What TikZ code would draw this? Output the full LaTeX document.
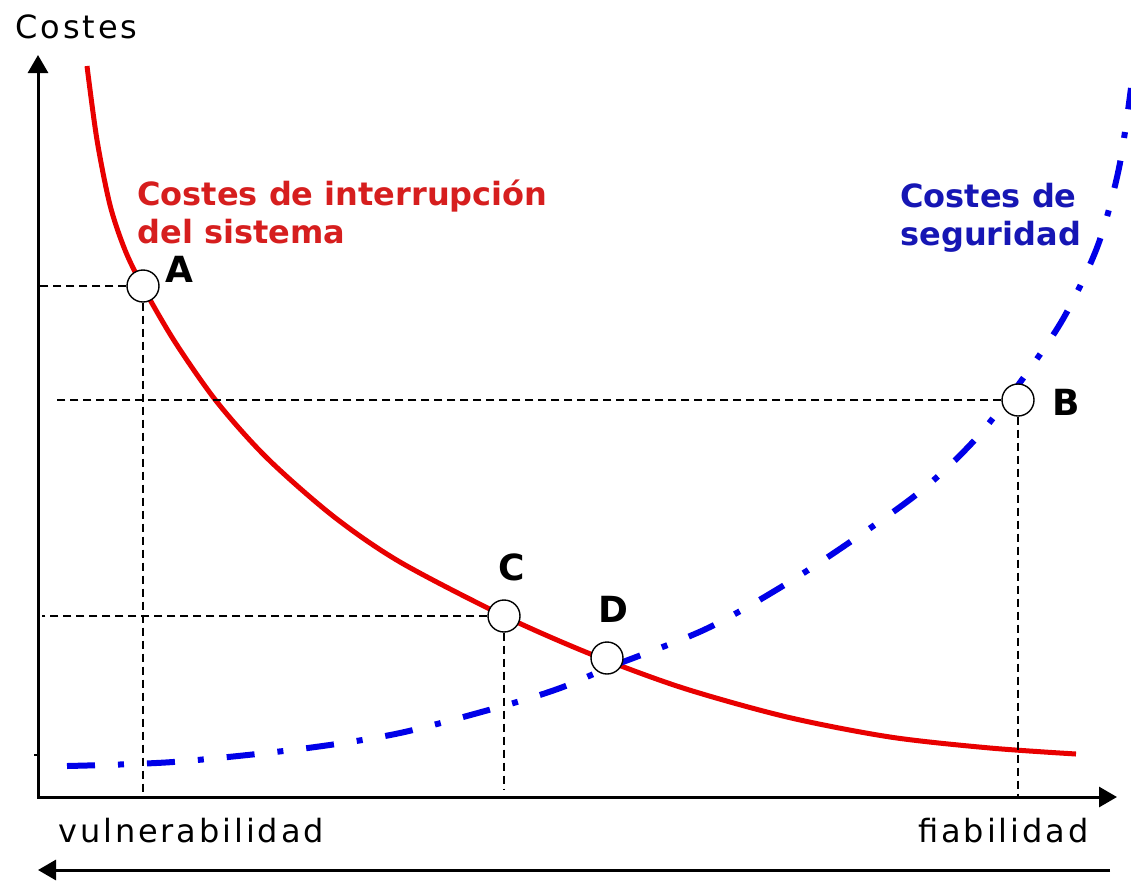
\documentclass[tikz,border=0pt]{standalone}
\usepackage{fontspec}
\setmainfont{DejaVu Sans}
\newfontfamily\axisfont{DejaVu Sans}[LetterSpace=9]
\usetikzlibrary{arrows.meta}
\definecolor{curvered}{RGB}{232,0,0}
\definecolor{textred}{RGB}{214,30,30}
\definecolor{curveblue}{RGB}{0,0,232}
\definecolor{textblue}{RGB}{22,22,180}

\begin{document}
\begin{tikzpicture}[x=0.5pt, y=-0.5pt,
    circ/.style = {draw, circle, fill=white, minimum size=16pt, inner sep=0pt, line width=0.7pt},
    guide/.style = {line width=0.75pt, dash pattern=on 4pt off 2.5pt},
    tag/.style = {font=\fontsize{18}{21}\selectfont\bfseries, inner sep=0pt, anchor=base west},
    axlabel/.style = {font=\fontsize{16}{19}\selectfont\axisfont, inner sep=0pt, anchor=base west},
    curvelabel/.style = {font=\fontsize{16}{19}\selectfont\bfseries, inner sep=0pt, anchor=base west, align=left}]
    \useasboundingbox (0,0) rectangle (1131,880);
    % axes
    \coordinate (O) at (38,797);
    \coordinate (ytop) at (38,55);
    \coordinate (xend) at (1117,797);
    \coordinate (back) at (1110,870);
    \coordinate (backend) at (38,870);
    \draw[line width=1.5pt, {Triangle[length=9pt,width=10pt]}-{Triangle[length=9pt,width=10pt]}] (ytop) -- (O) -- (xend);
    \draw[line width=1.5pt, -{Triangle[length=9pt,width=10pt]}] (back) -- (backend);
    \draw[line width=0.75pt] (34,755) -- (O |- 0,755);
    % curves
    \draw[curvered, line width=2.5pt] plot[smooth] coordinates {
        (87,66) (97,140) (110,205) (125,250) (143,287) (175,342) (217,402)
        (267,458) (333,516) (400,562) (504,616) (593,655) (683,688)
        (787,717) (890,737) (990,748) (1076,754)};
    \draw[curveblue, line width=3pt, dash pattern=on 14pt off 11.5pt on 3pt off 11.5pt] plot[smooth] coordinates {
        (67,766) (173,762) (300,749) (400,733) (510,704) (563,687) (610,667)
        (708,628) (802,574) (912,498) (971,444) (1016,388) (1063,319)
        (1098,245) (1119,168) (1131,88)};
    % points
    \node[circ] (A) at (143,286) {};
    \node[circ] (B) at (1018,400) {};
    \node[circ] (C) at (504,616) {};
    \node[circ] (D) at (607,658) {};
    \draw[guide] (A.west) -- (A.west -| O);
    \draw[guide] (A.south) -- (A.south |- O);
    \coordinate (bstart) at (55,400);
    \draw[guide] (B.west) -- (bstart);
    \draw[guide] (B.south) -- (B.south |- O);
    \coordinate (cstart) at (42,616);
    \draw[guide] (C.west) -- (cstart);
    \draw[guide] (C.south) -- ([yshift=4pt]C.south |- O);
    % labels
    \node[tag] (la) at (165,282) {A};
    \node[tag] (lb) at (1052,415) {B};
    \node[tag] (lc) at (498,580) {C};
    \node[tag] (ld) at (598,622) {D};
    \node[axlabel] (ylab) at (15,38) {Costes};
    \node[axlabel] (vul) at (58,842) {vulnerabilidad};
    \node[axlabel] (fia) at (918,842) {fiabilidad};
    \node[curvelabel, textred] (redlab) at (137,243) {Costes de interrupción\\del sistema};
    \node[curvelabel, textblue] (bluelab) at (900,245) {Costes de\\seguridad};
\end{tikzpicture}
\end{document}
